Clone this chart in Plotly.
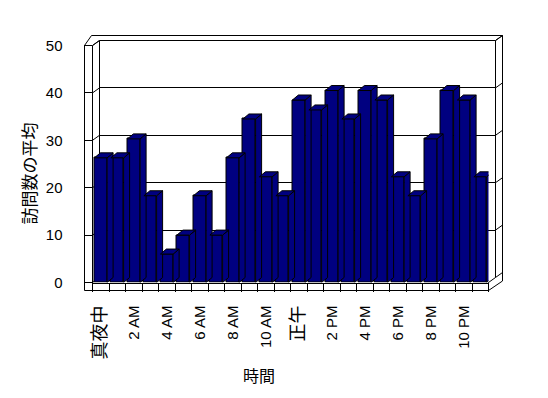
import plotly.graph_objects as go

# ---- data ----
hour_labels = ["真夜中", "", "2 AM", "", "4 AM", "", "6 AM", "", "8 AM", "", "10 AM", "",
               "正午", "", "2 PM", "", "4 PM", "", "6 PM", "", "8 PM", "", "10 PM", ""]
avg_visits = [26.3, 26.3, 30.3, 18.3, 6.0, 10.0, 18.3, 10.0, 26.3, 34.5, 22.3, 18.3,
              38.5, 36.4, 40.5, 34.5, 40.5, 38.5, 22.3, 18.3, 30.3, 40.5, 38.5, 22.3]
y_title = "訪問数の平均"
x_title = "時間"
y_ticks = [0, 10, 20, 30, 40, 50]

W, H = 548, 398
NAVY = "#000080"
LAT = "Liberation Sans, Arial, Noto Sans CJK JP"
CJK = "Noto Sans CJK JP"

# geometry (pixels)
FX0, FX1, FY0, FY1 = 92.5, 488.5, 282.5, 45.5      # front plane
DX, DY = 7.0, -5.0                                   # wall depth offset
BDX, BDY = 6.0, -5.0                                 # bar depth offset

def px(x):
    return x / W

def py(y):
    return 1 - y / H

n = len(avg_visits)
cat_px = (FX1 - FX0) / n
val_px = (FY0 - FY1) / 50.0
ddx = BDX / cat_px
ddy = -BDY / val_px
hw = 0.385

idx = list(range(n))

# side and top faces of bars, derived from the data
sx, sy, tx, ty = [], [], [], []
for i, v in zip(idx, avg_visits):
    r = i + hw
    l = i - hw
    sx += [r, r, r + ddx, r + ddx, r, None]
    sy += [0, v, v + ddy, ddy, 0, None]
    tx += [l, r, r + ddx, l + ddx, l, None]
    ty += [v, v, v + ddy, v + ddy, v, None]

fig = go.Figure()
fig.add_trace(go.Scatter(x=[None], y=[None], xaxis="x", yaxis="y", showlegend=False))
fig.add_trace(go.Scatter(x=sx, y=sy, xaxis="x2", yaxis="y2", mode="lines", fill="toself",
                         fillcolor=NAVY, line=dict(color="black", width=1),
                         hoverinfo="skip", showlegend=False))
fig.add_trace(go.Scatter(x=tx, y=ty, xaxis="x2", yaxis="y2", mode="lines", fill="toself",
                         fillcolor=NAVY, line=dict(color="black", width=1),
                         hoverinfo="skip", showlegend=False))
fig.add_trace(go.Bar(x=idx, y=avg_visits, xaxis="x2", yaxis="y2", width=2 * hw,
                     marker=dict(color=NAVY, line=dict(color="black", width=1)),
                     showlegend=False))

def tick_text(t):
    if any(ord(c) > 0x3000 for c in t):
        return f"<span style='font-size:18px'>{t}</span>"
    return t

label_vals = [i for i, t in zip(idx, hour_labels) if t]
label_text = [tick_text(t) for t in hour_labels if t]

fig.update_layout(
    template="none",
    width=W, height=H, autosize=False,
    margin=dict(l=0, r=0, t=0, b=0, pad=0),
    paper_bgcolor="white", plot_bgcolor="rgba(0,0,0,0)",
    font=dict(family=LAT, size=14, color="black"),
    bargap=0, showlegend=False,
    xaxis=dict(domain=[px(FX0 + DX), px(FX1 + DX)], range=[-0.5, n - 0.5], anchor="y",
               automargin=False,
               showgrid=False, zeroline=False, showticklabels=False, ticks="", showline=False),
    yaxis=dict(domain=[py(FY0 + DY), py(FY1 + DY)], range=[0, 50], anchor="x",
               automargin=False, tickvals=y_ticks, showgrid=True, gridcolor="black",
               gridwidth=1, zeroline=False, showticklabels=False, ticks="", showline=False),
    xaxis2=dict(domain=[px(FX0), px(FX1)], range=[-0.5, n - 0.5], anchor="y2",
                automargin=False,
                tickmode="array", tickvals=label_vals, ticktext=label_text,
                tickangle=-90, ticks="", showgrid=False, zeroline=False,
                showline=True, linecolor="black", linewidth=1,
                ticklabelstandoff=16,
                minor=dict(tickmode="array", tickvals=[i - 0.5 for i in range(n + 1)],
                           ticks="outside", ticklen=8, tickcolor="black", tickwidth=1,
                           showgrid=False),
                tickfont=dict(family=LAT, size=15, color="black")),
    yaxis2=dict(domain=[py(FY0), py(FY1)], range=[0, 50], anchor="x2",
                automargin=False,
                tickvals=y_ticks, ticks="outside", ticklen=8, tickcolor="black",
                showgrid=False, zeroline=False, showline=True, linecolor="black",
                linewidth=1, ticklabelstandoff=18,
                tickfont=dict(family=LAT, size=15, color="black")),
    annotations=[
        dict(text=y_title, x=px(28), y=py(173.5), xref="paper", yref="paper",
             xanchor="center", yanchor="middle",
             showarrow=False, textangle=-90, font=dict(family=CJK, size=17, color="black")),
        dict(text=x_title, x=px(259), y=py(375), xref="paper", yref="paper",
             xanchor="center", yanchor="middle",
             showarrow=False, font=dict(family=CJK, size=16, color="black")),
    ],
)

def seg(x0, y0, x1, y1):
    fig.add_shape(type="line", xref="paper", yref="paper",
                  x0=px(x0), y0=py(y0), x1=px(x1), y1=py(y1),
                  line=dict(color="black", width=1), layer="below")

BX0, BX1 = FX0 + DX, FX1 + DX
BY0, BY1 = FY0 + DY, FY1 + DY
FL = 8.0
seg(FX0 - FL, FY0 + FL, FX0 - FL, FY1)
seg(FX0 - FL, FY1, FX0, FY1)
seg(FX0 - FL, FY1, FX0 - FL + DX, FY1 + 2 * DY)
seg(FX0, FY1, BX0, BY1)
seg(FX0 - FL + DX, FY1 + 2 * DY, BX1 + DX, BY1 + DY)
seg(BX0, BY1, BX1, BY1)
seg(BX0, BY1, BX0, BY0)
seg(BX1, BY1, BX1, BY0)
seg(BX1, BY1, BX1 + DX, BY1 + DY)
seg(BX1 + DX, BY1 + DY, BX1 + DX, FY0 + FL + 2 * DY * 0.95)
seg(FX0 - FL, FY0 + FL, FX1, FY0 + FL)
seg(FX1, FY0, FX1, FY0 + FL)
seg(FX1, FY0, BX1, BY0)
seg(FX1, FY0 + FL, BX1 + DX, FY0 + FL + 2 * DY * 0.95)
for v in y_ticks:
    yf = FY0 - v * val_px
    yb = BY0 - v * val_px
    seg(FX0, yf, BX0, yb)
    seg(BX1, yb, BX1 + DX, yb + DY)

fig.write_html("out.html")
